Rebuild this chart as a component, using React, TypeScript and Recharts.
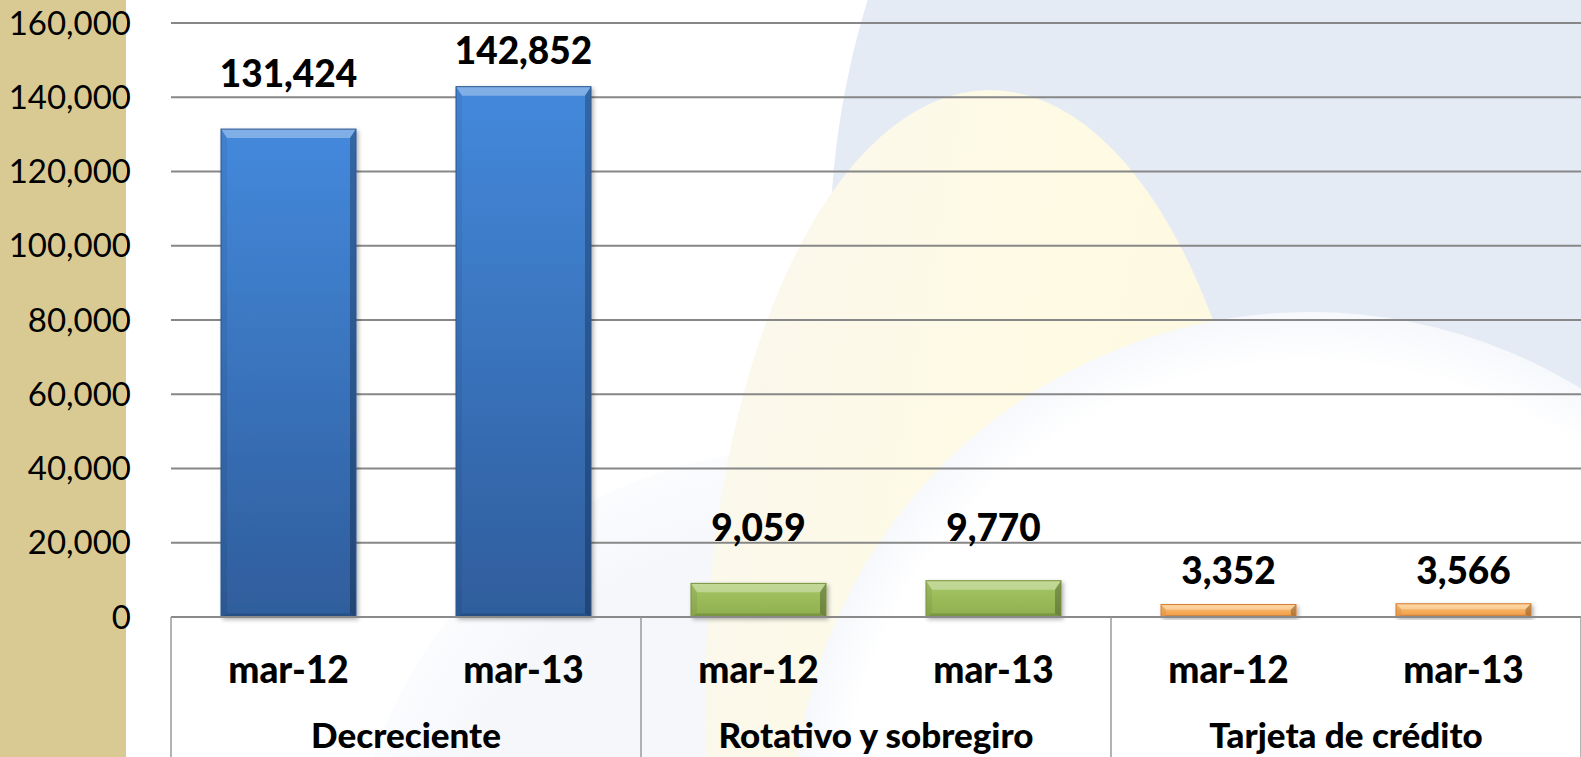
import { BarChart, Bar, XAxis, YAxis, CartesianGrid, LabelList } from "recharts";

const groups = ["Decreciente", "Rotativo y sobregiro", "Tarjeta de crédito"];
const periods = ["mar-12", "mar-13"];
const decreciente = [131424, 142852];
const rotativo = [9059, 9770];
const tarjeta = [3352, 3566];
const yTicks = [0, 20000, 40000, 60000, 80000, 100000, 120000, 140000, 160000];

// distance from bar top to label baseline, as placed in the original slide
const labelGap = [42, 23, 42, 40, 21, 20];

const W = 1581;
const H = 757;
const PLOT_LEFT = 171;
const BAND = (W - PLOT_LEFT) / 6;
const FONT = "Lato, 'Open Sans', sans-serif";

const palettes = [
  { from: "#4489dc", to: "#2f5d9c", stroke: "#2b5690" },
  { from: "#a6c765", to: "#8fae4e", stroke: "#76923c" },
  { from: "#fbc477", to: "#f29a45", stroke: "#d97a2c" },
];

const series = [decreciente, rotativo, tarjeta];

const data = groups.flatMap((g, gi) =>
  periods.map((p, pi) => ({
    key: `${g} ${p}`,
    group: g,
    period: p,
    groupIndex: gi,
    value: series[gi][pi],
  }))
);

function BevelBar(props: any) {
  const { x, y, width: w, height: h, payload } = props;
  if (!h || h <= 0) return null;
  const gi = payload.groupIndex;
  const p = palettes[gi];
  const b = Math.min(9, h / 2.4);
  const s = Math.min(6, h / 2.4);
  return (
    <g filter="url(#barShadow)">
      <rect x={x} y={y} width={w} height={h} fill={`url(#body${gi})`} />
      <polygon
        points={`${x},${y} ${x + w},${y} ${x + w - s},${y + b} ${x + s},${y + b}`}
        fill="rgba(255,255,255,0.32)"
      />
      <polygon
        points={`${x},${y} ${x + s},${y + b} ${x + s},${y + h - b * 0.4} ${x},${y + h}`}
        fill="rgba(0,0,0,0.06)"
      />
      <polygon
        points={`${x + w},${y} ${x + w - s},${y + b} ${x + w - s},${y + h - b * 0.4} ${x + w},${y + h}`}
        fill="rgba(0,0,0,0.25)"
      />
      <polygon
        points={`${x},${y + h} ${x + s},${y + h - b * 0.4} ${x + w - s},${y + h - b * 0.4} ${x + w},${y + h}`}
        fill="rgba(0,0,0,0.15)"
      />
      <rect x={x} y={y} width={w} height={h} fill="none" stroke={p.stroke} strokeWidth={1} />
    </g>
  );
}

function ValueLabel(props: any) {
  const { x, y, width, value, index } = props;
  const gap = labelGap[index] ?? 40;
  return (
    <text
      x={x + width / 2}
      y={y - gap}
      textAnchor="middle"
      fontFamily={FONT}
      fontWeight={900}
      fontSize={37}
      fill="#000"
    >
      {Number(value).toLocaleString("en-US")}
    </text>
  );
}

function XTick(props: any) {
  const { x, y, payload } = props;
  const i = props.index ?? payload.index;
  const row = data[i];
  const isFirst = i % 2 === 0;
  return (
    <g>
      <text
        x={x}
        y={y + 66}
        textAnchor="middle"
        fontFamily={FONT}
        fontWeight={900}
        fontSize={37}
        fill="#000"
      >
        {row.period}
      </text>
      {isFirst && (
        <>
          <line x1={x - BAND / 2} y1={y} x2={x - BAND / 2} y2={H} stroke="#9a9a9a" strokeWidth={1.5} />
          <text
            x={x + BAND / 2}
            y={y + 131}
            textAnchor="middle"
            fontFamily={FONT}
            fontWeight={900}
            fontSize={35}
            fill="#000"
          >
            {row.group}
          </text>
        </>
      )}
      {i === data.length - 1 && (
        <line x1={x + BAND / 2} y1={y} x2={x + BAND / 2} y2={H} stroke="#9a9a9a" strokeWidth={1.5} />
      )}
    </g>
  );
}

function Backdrop() {
  return (
    <svg width={W} height={H} style={{ position: "absolute", left: 0, top: 0 }}>
      <defs>
        <radialGradient id="lowGlow" cx="0.5" cy="0.5" r="0.5">
          <stop offset="0.8" stopColor="#f5f7fb" />
          <stop offset="1" stopColor="#fbfcfe" />
        </radialGradient>
        <linearGradient id="yellowFill" x1="0" y1="0" x2="1" y2="0.4">
          <stop offset="0" stopColor="#faf8ef" />
          <stop offset="0.6" stopColor="#fefae3" />
          <stop offset="1" stopColor="#fdf8e0" />
        </linearGradient>
        <radialGradient id="whiteFill" cx="0.5" cy="0.5" r="0.5">
          <stop offset="0.9" stopColor="#ffffff" />
          <stop offset="1" stopColor="#f6f8fc" />
        </radialGradient>
      </defs>
      <rect x={0} y={0} width={W} height={H} fill="#ffffff" />
      <circle cx={800} cy={900} r={450} fill="url(#lowGlow)" />
      <circle cx={1680} cy={250} r={850} fill="#e4ebf5" />
      <ellipse cx={990} cy={700} rx={285} ry={610} fill="url(#yellowFill)" />
      <circle cx={1310} cy={830} r={518} fill="url(#whiteFill)" />
      <rect x={0} y={0} width={126} height={H} fill="#d8ca92" />
    </svg>
  );
}

export default function App() {
  return (
    <div style={{ position: "absolute", left: 0, top: 0, width: W, height: H, overflow: "hidden" }}>
      <Backdrop />
      <div style={{ position: "absolute", left: 0, top: 0 }}>
        <BarChart width={W} height={H} data={data} margin={{ top: 23, right: 0, left: 0, bottom: 0 }}>
          <defs>
            {palettes.map((p, i) => (
              <linearGradient key={i} id={`body${i}`} x1="0" y1="0" x2="0" y2="1">
                <stop offset="0" stopColor={p.from} />
                <stop offset="1" stopColor={p.to} />
              </linearGradient>
            ))}
            <filter id="barShadow" x="-10%" y="-10%" width="130%" height="130%">
              <feDropShadow dx={2} dy={2} stdDeviation={2} floodColor="#000" floodOpacity={0.3} />
            </filter>
          </defs>
          <CartesianGrid vertical={false} stroke="#878787" strokeWidth={2} />
          <YAxis
            width={PLOT_LEFT}
            domain={[0, 160000]}
            ticks={yTicks}
            axisLine={false}
            tickLine={false}
            tickMargin={34}
            tickFormatter={(v: number) => v.toLocaleString("en-US")}
            tick={{ fill: "#000", fontSize: 33, fontFamily: FONT }}
          />
          <XAxis
            dataKey="key"
            height={H - 617}
            interval={0}
            tickLine={false}
            tickSize={0}
            tickMargin={0}
            axisLine={{ stroke: "#8a8a8a", strokeWidth: 2 }}
            tick={(p: any) => <XTick {...p} />}
          />
          <Bar dataKey="value" barSize={135} isAnimationActive={false} shape={(p: any) => <BevelBar {...p} />}>
            <LabelList dataKey="value" content={(p: any) => <ValueLabel {...p} />} />
          </Bar>
        </BarChart>
      </div>
    </div>
  );
}
